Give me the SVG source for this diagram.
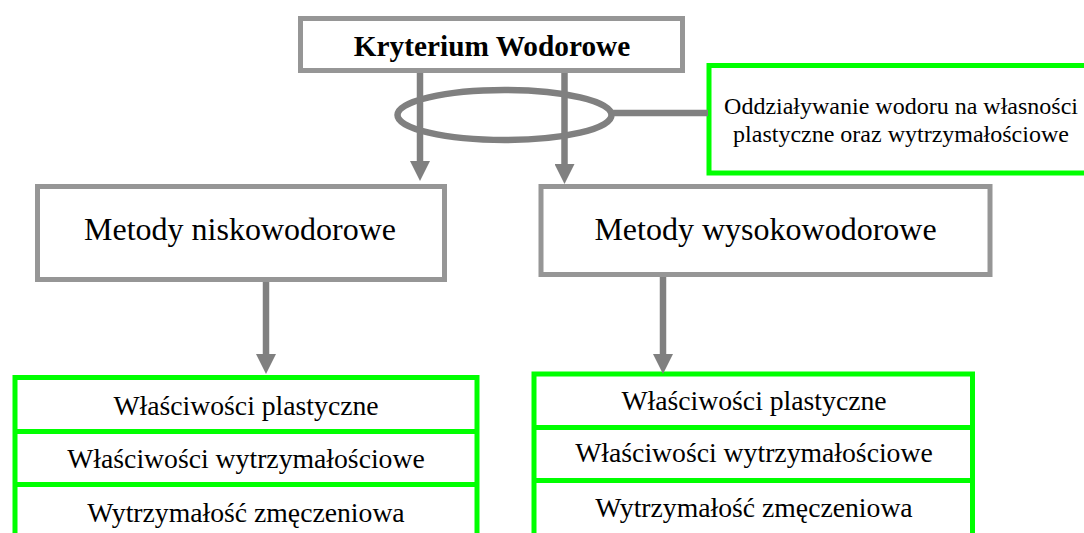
<svg xmlns="http://www.w3.org/2000/svg" width="1084" height="533" viewBox="0 0 1084 533">
<style>
.gbox{fill:#fff;stroke:#969696;stroke-width:5}
.grn{fill:#fff;stroke:#00ff00;stroke-width:5}
.gl{stroke:#00ff00;stroke-width:5;fill:none}
.conn{stroke:#808080;stroke-width:6.5;fill:none}
.t{font-family:"Liberation Serif","Times New Roman",serif;fill:#000;text-anchor:middle}
</style>
<defs>
<marker id="ah" markerUnits="userSpaceOnUse" markerWidth="20" markerHeight="20" refX="8" refY="10" orient="auto">
<path d="M0,0 L20,10 L0,20 z" fill="#808080"/>
</marker>
</defs>
<rect width="1084" height="533" fill="#fff"/>
<g id="note">
<rect class="grn" x="709" y="65.5" width="400" height="107.5"/>
<text class="t" x="901" y="113.5" font-size="24">Oddziaływanie wodoru na własności</text>
<text class="t" x="901" y="141.5" font-size="24">plastyczne oraz wytrzymałościowe</text>
</g>
<g id="top">
<rect class="gbox" x="300.5" y="18.5" width="382" height="52"/>
<text class="t" x="492" y="56" font-size="29.3" font-weight="bold">Kryterium Wodorowe</text>
</g>
<g id="low">
<rect class="gbox" x="37.5" y="186.5" width="407" height="93"/>
<text class="t" x="240" y="240" font-size="32">Metody niskowodorowe</text>
</g>
<g id="high">
<rect class="gbox" x="541" y="186.5" width="449" height="88"/>
<text class="t" x="765.5" y="240" font-size="32">Metody wysokowodorowe</text>
</g>
<g id="low-props">
<rect class="grn" x="15" y="377.5" width="462" height="200"/>
<line class="gl" x1="15" y1="431.5" x2="477" y2="431.5"/>
<line class="gl" x1="15" y1="484.5" x2="477" y2="484.5"/>
<text class="t" x="246" y="415" font-size="27.7">Właściwości plastyczne</text>
<text class="t" x="246" y="468" font-size="27.7">Właściwości wytrzymałościowe</text>
<text class="t" x="246" y="521.5" font-size="27.7">Wytrzymałość zmęczeniowa</text>
</g>
<g id="high-props">
<rect class="grn" x="534" y="374" width="438.5" height="200"/>
<line class="gl" x1="534" y1="427.5" x2="972.5" y2="427.5"/>
<line class="gl" x1="534" y1="480.5" x2="972.5" y2="480.5"/>
<text class="t" x="754" y="410" font-size="27.7">Właściwości plastyczne</text>
<text class="t" x="754" y="462" font-size="27.7">Właściwości wytrzymałościowe</text>
<text class="t" x="754" y="517" font-size="27.7">Wytrzymałość zmęczeniowa</text>
</g>
<g id="connectors">
<line class="conn" x1="420" y1="73" x2="420" y2="169" marker-end="url(#ah)"/>
<line class="conn" x1="564.5" y1="73" x2="564.5" y2="172" marker-end="url(#ah)"/>
<ellipse class="conn" cx="504.5" cy="115" rx="107" ry="25"/>
<line class="conn" x1="611" y1="113" x2="708" y2="113" stroke-width="5.5"/>
<line class="conn" x1="266" y1="282" x2="266" y2="362" marker-end="url(#ah)"/>
<line class="conn" x1="663" y1="277" x2="663" y2="362" marker-end="url(#ah)"/>
</g>
</svg>
